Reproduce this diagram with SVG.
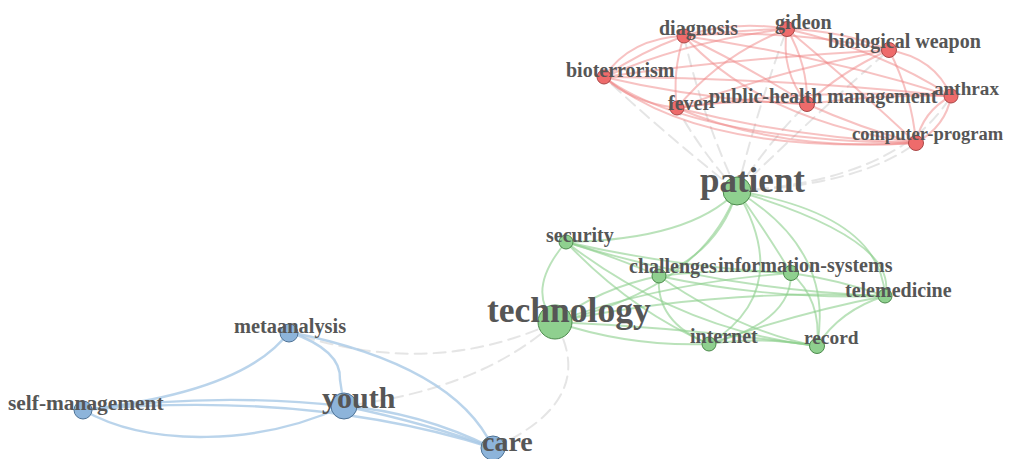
<svg xmlns="http://www.w3.org/2000/svg" width="1013" height="459" viewBox="0 0 1013 459">
<style>
.bg{fill:#fff}
.e{fill:none;stroke-linecap:round}
.er{stroke:#ef8585;stroke-width:2;stroke-opacity:.5}
.eg{stroke:#8ccf8c;stroke-width:1.9;stroke-opacity:.6}
.eb{stroke:#a9c9e6;stroke-width:2.4;stroke-opacity:.8}
.ex{stroke:#dcdcdc;stroke-width:2;stroke-dasharray:12 7;stroke-opacity:.75}
.nr{fill:#ee6b6b;stroke:#a94848;stroke-width:1}
.ng{fill:#8fd08f;stroke:#4c8a4c;stroke-width:1}
.nb{fill:#8db4da;stroke:#4e7295;stroke-width:1}
text{font-family:"Liberation Serif","Times New Roman",serif;font-weight:bold;fill:#565656}
.s{font-size:20px}
</style>
<rect class="bg" x="0" y="0" width="1013" height="459"/>
<g id="connectors">
<g class="e ex">
<path d="M737,191 Q700,150 677,108"/>
<path d="M737,191 Q700,110 684,36"/>
<path d="M737,191 Q660,130 604,77"/>
<path d="M737,191 Q770,140 807,104"/>
<path d="M737,191 Q860,185 916,143"/>
<path d="M737,191 Q760,100 787,29"/>
<path d="M737,191 Q900,180 951,96"/>
<path d="M737,191 Q820,110 889,50"/>
<path d="M555,322 Q430,380 289,332"/>
<path d="M555,322 Q480,390 344,406"/>
<path d="M555,322 Q600,400 493,448"/>
</g>
<g class="e er">
<path d="M684,36 Q735,20 787,29"/>
<path d="M684,36 Q735,30 787,29"/>
<path d="M684,36 Q790,28 889,50"/>
<path d="M684,36 Q820,55 951,96"/>
<path d="M684,36 Q745,65 807,104"/>
<path d="M684,36 Q672,72 677,108"/>
<path d="M684,36 Q630,38 604,77"/>
<path d="M684,36 Q640,52 604,77"/>
<path d="M684,36 Q760,120 916,143"/>
<path d="M787,29 Q840,30 889,50"/>
<path d="M787,29 Q880,50 951,96"/>
<path d="M787,29 Q780,70 807,104"/>
<path d="M787,29 Q808,65 807,104"/>
<path d="M787,29 Q720,55 677,108"/>
<path d="M787,29 Q690,40 604,77"/>
<path d="M787,29 Q860,90 916,143"/>
<path d="M889,50 Q935,58 951,96"/>
<path d="M889,50 Q780,70 677,108"/>
<path d="M889,50 Q740,58 604,77"/>
<path d="M889,50 Q840,72 807,104"/>
<path d="M889,50 Q912,95 916,143"/>
<path d="M604,77 Q630,102 677,108"/>
<path d="M604,77 Q780,78 951,96"/>
<path d="M604,77 Q700,100 807,104"/>
<path d="M604,77 Q700,155 916,143"/>
<path d="M604,77 Q690,140 916,143"/>
<path d="M677,108 Q740,98 807,104"/>
<path d="M677,108 Q810,88 951,96"/>
<path d="M677,108 Q780,152 916,143"/>
<path d="M677,108 Q795,138 916,143"/>
<path d="M807,104 Q880,94 951,96"/>
<path d="M807,104 Q860,128 916,143"/>
<path d="M951,96 Q922,112 916,143"/>
<path d="M951,96 Q946,126 916,143"/>
</g>
<g class="e eg">
<path d="M737,191 Q690,240 566,242"/>
<path d="M737,191 Q720,250 659,276"/>
<path d="M737,191 Q765,230 791,273"/>
<path d="M737,191 Q880,215 885,296"/>
<path d="M737,191 Q900,240 885,296"/>
<path d="M737,191 Q700,290 555,322"/>
<path d="M737,191 Q795,290 709,344"/>
<path d="M737,191 Q835,250 817,346"/>
<path d="M566,242 Q525,290 555,322"/>
<path d="M566,242 Q610,255 659,276"/>
<path d="M566,242 Q680,268 791,273"/>
<path d="M566,242 Q720,290 885,296"/>
<path d="M566,242 Q630,310 709,344"/>
<path d="M566,242 Q680,330 817,346"/>
<path d="M659,276 Q725,268 791,273"/>
<path d="M659,276 Q770,300 885,296"/>
<path d="M659,276 Q600,288 555,322"/>
<path d="M659,276 Q655,322 709,344"/>
<path d="M659,276 Q740,332 817,346"/>
<path d="M791,273 Q840,280 885,296"/>
<path d="M791,273 Q660,283 555,322"/>
<path d="M791,273 Q792,322 709,344"/>
<path d="M791,273 Q822,300 817,346"/>
<path d="M885,296 Q720,288 555,322"/>
<path d="M885,296 Q800,312 709,344"/>
<path d="M885,296 Q840,310 817,346"/>
<path d="M555,322 Q630,347 709,344"/>
<path d="M555,322 Q690,328 817,346"/>
<path d="M709,344 Q760,336 817,346"/>
</g>
<g class="e eb">
<path d="M289,332 Q245,392 83,410"/>
<path d="M289,332 Q342,350 340,380 L344,406"/>
<path d="M289,332 Q455,365 493,448"/>
<path d="M83,410 Q215,392 344,406"/>
<path d="M83,410 C150,448 260,445 344,406"/>
<path d="M83,410 Q310,390 493,448"/>
<path d="M344,406 Q420,412 493,448"/>
<path d="M344,406 Q430,424 493,448"/>
</g>
</g>
<g id="node-diagnosis"><circle class="nr" cx="684" cy="36" r="7"/><text class="s" x="659" y="35">diagnosis</text></g>
<g id="node-gideon"><circle class="nr" cx="787" cy="29" r="7.5"/><text class="s" x="775" y="29">gideon</text></g>
<g id="node-biological-weapon"><circle class="nr" cx="889" cy="50" r="7.5"/><text class="s" x="828" y="48">biological weapon</text></g>
<g id="node-bioterrorism"><circle class="nr" cx="604" cy="77" r="7"/><text class="s" x="566" y="77">bioterrorism</text></g>
<g id="node-fever"><circle class="nr" cx="677" cy="108" r="7"/><text class="s" x="668" y="110">fever</text></g>
<g id="node-public-health-management"><circle class="nr" cx="807" cy="104" r="7.5"/><text class="s" x="709" y="103">public-health management</text></g>
<g id="node-anthrax"><circle class="nr" cx="951" cy="96" r="7"/><text class="s" x="934" y="95" style="font-size:19.2px">anthrax</text></g>
<g id="node-computer-program"><circle class="nr" cx="916" cy="143" r="7.5"/><text class="s" x="852" y="140" style="font-size:18.5px">computer-program</text></g>
<g id="node-patient"><circle class="ng" cx="737" cy="191" r="14"/><text x="700" y="192" style="font-size:35px">patient</text></g>
<g id="node-security"><circle class="ng" cx="566" cy="242" r="7"/><text class="s" x="546" y="242">security</text></g>
<g id="node-challenges"><circle class="ng" cx="659" cy="276" r="7"/><text class="s" x="629" y="273">challenges</text></g>
<g id="node-information-systems"><circle class="ng" cx="791" cy="273" r="7.5"/><text class="s" x="718" y="272">information-systems</text></g>
<g id="node-telemedicine"><circle class="ng" cx="885" cy="296" r="7"/><text class="s" x="845" y="297">telemedicine</text></g>
<g id="node-technology"><circle class="ng" cx="555" cy="322" r="17"/><text x="487" y="322" style="font-size:35.5px">technology</text></g>
<g id="node-internet"><circle class="ng" cx="709" cy="344" r="7"/><text class="s" x="690" y="343">internet</text></g>
<g id="node-record"><circle class="ng" cx="817" cy="346" r="7.5"/><text class="s" x="804" y="344" style="font-size:19.4px">record</text></g>
<g id="node-metaanalysis"><circle class="nb" cx="289" cy="333" r="9"/><text x="234" y="333" style="font-size:20.4px">metaanalysis</text></g>
<g id="node-self-management"><circle class="nb" cx="83" cy="410" r="9"/><text x="8" y="410" style="font-size:21.4px">self-management</text></g>
<g id="node-youth"><circle class="nb" cx="344" cy="406" r="13"/><text x="322" y="408" style="font-size:30px">youth</text></g>
<g id="node-care"><circle class="nb" cx="493" cy="448" r="12"/><text x="482" y="451" style="font-size:28px">care</text></g>
</svg>
